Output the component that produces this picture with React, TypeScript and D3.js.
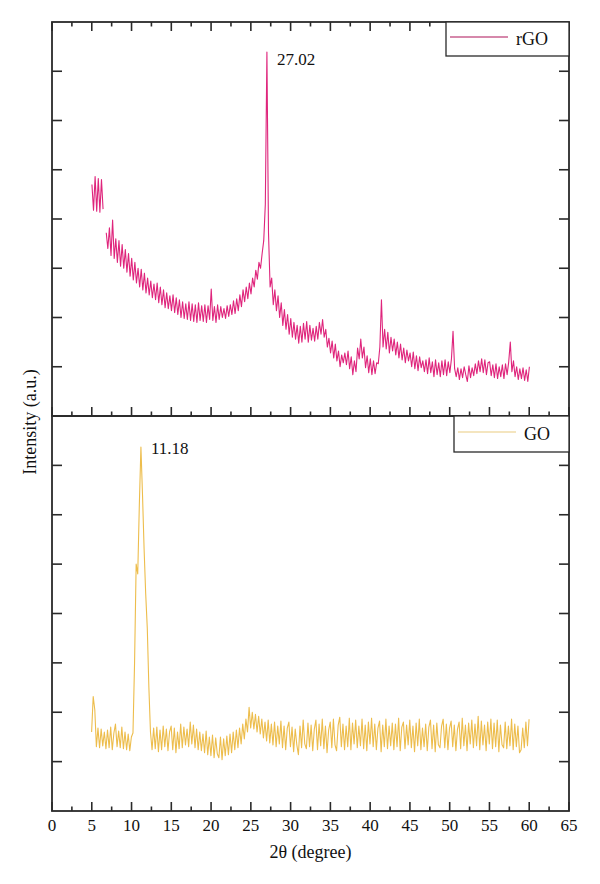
import React from "react";
import * as d3 from "d3";

// 2θ sampling of each scan (degrees)
const RGO_START = 5.02;
const GO_START = 4.98;
const STEP = 0.2;

// rGO counts (arb. units), one row = 2°
const rgoIntensity: (number | null)[] = [
  470, 418, 486, 416, 482, 414, 480, 420, null, 372,
  340, 382, 326, 398, 320, 360, 312, 356, 304, 348,
  300, 338, 292, 330, 284, 320, 276, 312, 270, 300,
  262, 298, 256, 290, 250, 280, 246, 274, 240, 268,
  236, 270, 230, 262, 226, 256, 220, 250, 218, 244,
  214, 246, 210, 240, 206, 236, 200, 232, 198, 228,
  196, 232, 194, 228, 192, 226, 190, 230, 194, 224,
  192, 226, 190, 224, 196, 258, 194, 222, 190, 226,
  196, 222, 200, 218, 198, 224, 202, 226, 206, 234,
  208, 238, 214, 246, 222, 256, 232, 262, 238, 270,
  248, 280, 262, 296, 278, 312, 300, 330, 356, 430,
  739, 372, 262, 280, 226, 256, 214, 244, 200, 230,
  184, 216, 176, 206, 166, 198, 160, 190, 156, 184,
  148, 182, 150, 188, 156, 192, 150, 184, 154, 178,
  152, 182, 156, 190, 166, 196, 160, 176, 140, 158,
  128, 152, 118, 146, 112, 132, 100, 124, 108, 128,
  104, 132, 96, 120, 84, 112, 90, 138, 116, 156,
  118, 140, 98, 122, 88, 116, 84, 112, 86, 108,
  106, 140, 236, 140, 176, 136, 170, 128, 160, 132,
  156, 124, 150, 118, 146, 114, 138, 108, 134, 112,
  128, 100, 130, 96, 122, 92, 120, 98, 112, 90,
  114, 86, 118, 88, 110, 80, 114, 84, 108, 80,
  112, 84, 114, 82, 110, 88, 116, 172, 96, 80,
  98, 74, 96, 78, 100, 84, 70, 102, 78, 98,
  82, 106, 86, 112, 90, 116, 88, 114, 84, 108,
  110, 82, 104, 78, 106, 76, 100, 80, 104, 76,
  106, 84, 110, 150, 90, 112, 80, 100, 74, 96,
  76, 98, 72, 94, 70, 100,
];

// GO counts (arb. units), one row = 2°
const goIntensity: (number | null)[] = [
  160, 232, 205, 130, 168, 128, 166, 132, 160, 126,
  164, 128, 170, 124, 158, 176, 130, 162, 128, 170,
  126, 160, 124, 156, 122, 150, 158, 300, 500, 480,
  620, 737, 640, 530, 440, 370, 250, 160, 124, 168,
  126, 170, 120, 164, 124, 172, 130, 166, 122, 160,
  172, 124, 168, 118, 160, 126, 176, 128, 170, 134,
  166, 130, 180, 136, 174, 128, 166, 124, 160, 122,
  156, 118, 162, 114, 150, 112, 154, 108, 148, 116,
  108, 150, 104, 146, 112, 152, 114, 156, 118, 160,
  124, 164, 128, 168, 136, 176, 146, 186, 160, 210,
  168, 200, 166, 196, 160, 192, 156, 186, 148, 180,
  142, 184, 138, 176, 134, 180, 130, 172, 136, 182,
  128, 172, 124, 168, 180, 130, 170, 120, 166, 134,
  114, 172, 128, 184, 136, 126, 178, 130, 174, 122,
  166, 184, 124, 176, 132, 186, 126, 172, 118, 164,
  180, 128, 186, 134, 122, 174, 190, 130, 176, 124,
  172, 130, 188, 124, 178, 136, 184, 128, 172, 132,
  186, 126, 174, 122, 180, 136, 188, 130, 176, 124,
  168, 182, 120, 174, 130, 186, 126, 172, 132, 178,
  124, 176, 130, 188, 122, 170, 180, 126, 174, 134,
  184, 128, 172, 120, 178, 132, 186, 124, 168, 130,
  176, 122, 170, 184, 126, 174, 120, 178, 134, 128,
  172, 186, 128, 176, 124, 168, 182, 130, 174, 122,
  166, 180, 126, 188, 132, 174, 122, 178, 136, 184,
  128, 176, 132, 192, 124, 182, 134, 174, 122, 180,
  136, 186, 126, 178, 130, 184, 120, 174, 134, 128,
  180, 126, 172, 132, 186, 124, 176, 130, 172, 118,
  124, 168, 128, 180, 132, 186,
];

const peakLabels = [
  { series: "rGO", label: "27.02", x: 27.02, y: 739 },
  { series: "GO", label: "11.18", x: 11.18, y: 737 },
];

const xTicks = d3.range(0, 66, 5);
const xMinorTicks = d3.range(2.5, 65, 5);
const yTicks = d3.range(100, 800, 100);

const FONT = "'Liberation Serif', 'DejaVu Serif', Times, serif";
const AXIS = "#2a2a2a";

type Pt = [number, number | null];
const toPoints = (start: number, vals: (number | null)[]): Pt[] =>
  vals.map((v, i) => [start + i * STEP, v]);

const left = 52;
const right = 569;
const x = d3.scaleLinear().domain([0, 65]).range([left, right]);

interface PanelProps {
  top: number;
  bottom: number;
  points: Pt[];
  color: string;
  legendColor: string;
  name: string;
  legendLeft: number;
  legendHeight: number;
  peak: { label: string; x: number; y: number };
  labelDy: number;
  topTicks: boolean;
}

const Panel: React.FC<PanelProps> = ({
  top, bottom, points, color, legendColor, name, legendLeft, legendHeight, peak, labelDy, topTicks,
}) => {
  const y = d3.scaleLinear().domain([0, 800]).range([bottom, top]);
  const line = d3
    .line<Pt>()
    .defined((d) => d[1] !== null)
    .x((d) => x(d[0]))
    .y((d) => y(d[1] as number));

  return (
    <g>
      <path d={line(points) ?? ""} fill="none" stroke={color} strokeWidth={1.1} strokeLinejoin="round" />

      {/* inward ticks on the bottom edge, and on the top edge if asked */}
      {xTicks.map((t) => (
        <g key={"M" + t}>
          <line x1={x(t)} x2={x(t)} y1={bottom} y2={bottom - 9} stroke={AXIS} strokeWidth={1.6} />
          {topTicks && <line x1={x(t)} x2={x(t)} y1={top} y2={top + 9} stroke={AXIS} strokeWidth={1.6} />}
        </g>
      ))}
      {xMinorTicks.map((t) => (
        <g key={"m" + t}>
          <line x1={x(t)} x2={x(t)} y1={bottom} y2={bottom - 4.5} stroke={AXIS} strokeWidth={1.6} />
          {topTicks && <line x1={x(t)} x2={x(t)} y1={top} y2={top + 4.5} stroke={AXIS} strokeWidth={1.6} />}
        </g>
      ))}
      {yTicks.map((t) => (
        <g key={"y" + t}>
          <line x1={left} x2={left + 10} y1={y(t)} y2={y(t)} stroke={AXIS} strokeWidth={1.6} />
          <line x1={right} x2={right - 10} y1={y(t)} y2={y(t)} stroke={AXIS} strokeWidth={1.6} />
        </g>
      ))}

      <rect x={left} y={top} width={right - left} height={bottom - top} fill="none" stroke={AXIS} strokeWidth={1.8} />

      {/* legend */}
      <rect x={legendLeft} y={top} width={right - legendLeft} height={legendHeight} fill="#fff" stroke={AXIS} strokeWidth={1.3} />
      <line
        x1={legendLeft + 4}
        x2={legendLeft + 62}
        y1={top + legendHeight / 2 - 2}
        y2={top + legendHeight / 2 - 2}
        stroke={legendColor}
        strokeWidth={1.4}
      />
      <text x={legendLeft + 70} y={top + legendHeight / 2 + 6} fontFamily={FONT} fontSize={18} fill="#111">
        {name}
      </text>

      <text x={x(peak.x) + 10} y={y(peak.y) + labelDy} fontFamily={FONT} fontSize={17} fill="#111">
        {peak.label}
      </text>
    </g>
  );
};

export default function App() {
  const rgo = toPoints(RGO_START, rgoIntensity);
  const go = toPoints(GO_START, goIntensity);
  const bottom = 811;

  return (
    <svg width={600} height={884} style={{ position: "absolute", left: 0, top: 0, background: "#fff" }}>
      <rect width={600} height={884} fill="#fff" />
      <Panel
        top={22}
        bottom={416}
        points={rgo}
        color="#df257c"
        legendColor="#c9608f"
        name="rGO"
        legendLeft={446}
        legendHeight={34}
        peak={peakLabels[0]}
        labelDy={13}
        topTicks={true}
      />
      <Panel
        top={416}
        bottom={bottom}
        points={go}
        color="#edbd4c"
        legendColor="#f1ddaa"
        name="GO"
        legendLeft={454}
        legendHeight={36}
        peak={peakLabels[1]}
        labelDy={7}
        topTicks={false}
      />

      {xTicks.map((t) => (
        <text key={t} x={x(t)} y={bottom + 20} textAnchor="middle" fontFamily={FONT} fontSize={17} fill="#111">
          {t}
        </text>
      ))}
      <text x={(left + right) / 2} y={858} textAnchor="middle" fontFamily={FONT} fontSize={18} fill="#111">
        2θ (degree)
      </text>
      <text
        transform={`translate(36, 422) rotate(-90)`}
        textAnchor="middle"
        fontFamily={FONT}
        fontSize={18}
        fill="#111"
      >
        Intensity (a.u.)
      </text>
    </svg>
  );
}
